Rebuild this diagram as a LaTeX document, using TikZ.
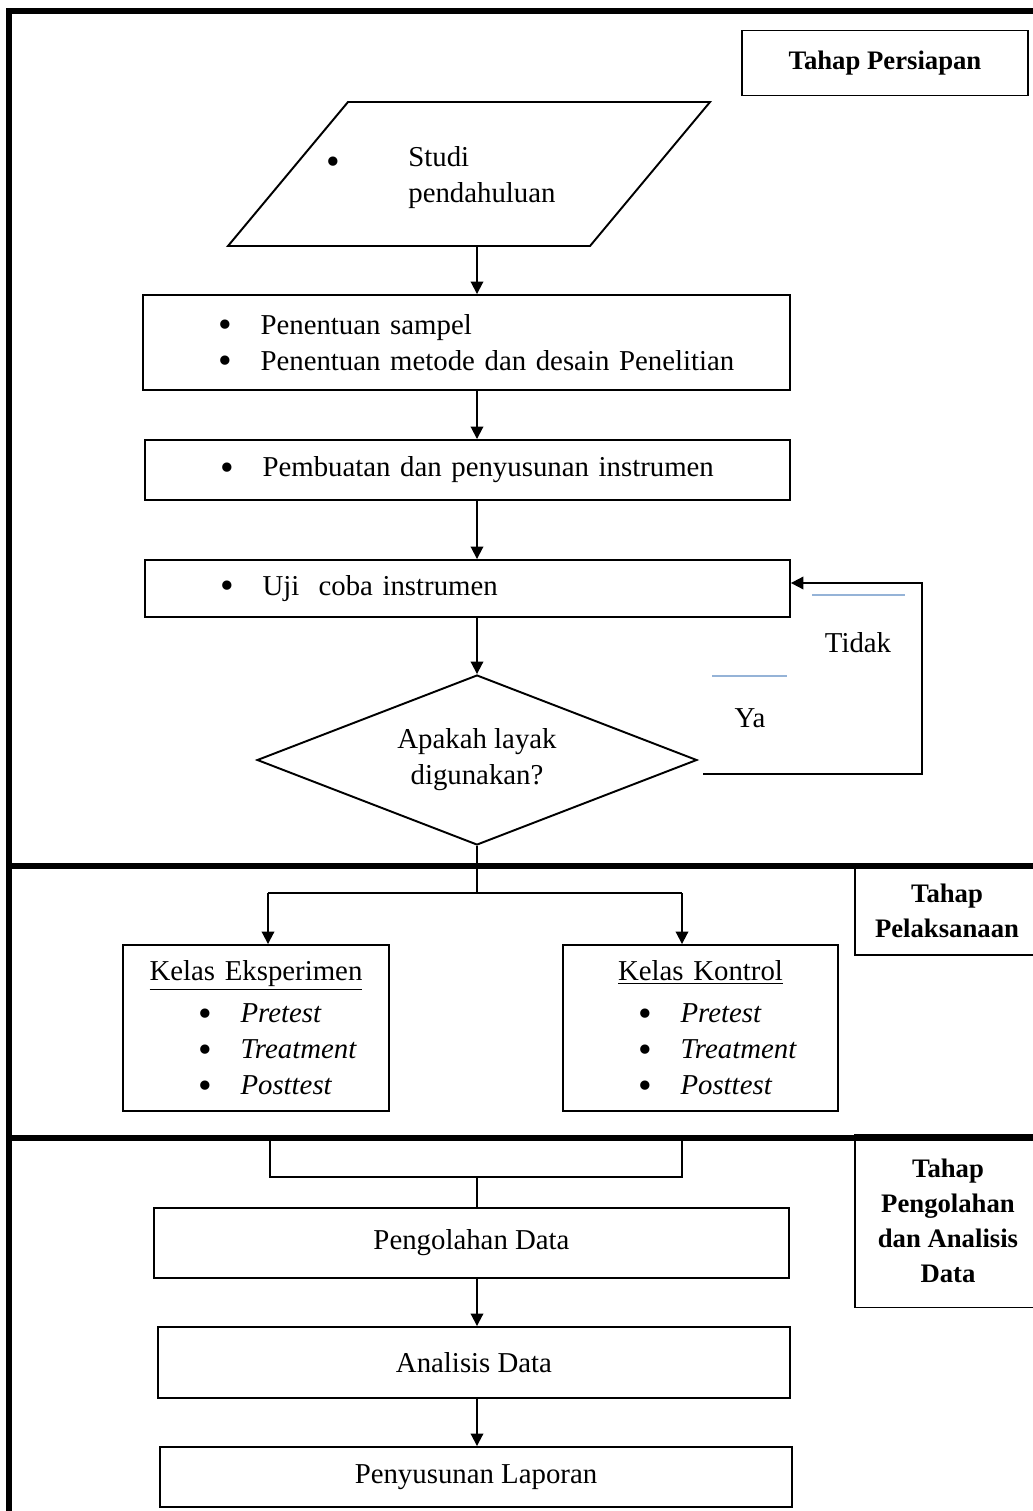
\documentclass[tikz,border=0pt]{standalone}
\usepackage{fontspec}
\setmainfont{Liberation Serif}
\usetikzlibrary{shapes.geometric,arrows.meta}
\definecolor{garisbiru}{RGB}{149,179,215}
\newcommand{\teks}{\fontsize{16.4}{20.5}\selectfont}
\newcommand{\judul}{\fontsize{15.2}{19.9}\selectfont\bfseries}
\newcommand{\bulat}{\smash{\raisebox{-0.12em}{\scalebox{1.35}{\textbullet}}}}
\newcommand{\butir}{\hspace*{1.5cm}\makebox[0.85cm][l]{\bulat}}
\begin{document}
\begin{tikzpicture}[x=0.02cm,y=-0.02cm,
	garis/.style={line width=1.1pt},
	panah/.style={line width=1.1pt,-{Triangle[width=0.25cm,length=0.25cm]}},
	bingkai/.style={line width=2.9pt},
	kotak/.style={draw,line width=1.1pt,inner sep=0pt,font=\teks},
	kotakkiri/.style={kotak,align=left,text width=#1},
	tahap/.style={draw,line width=1pt,inner sep=0pt,align=center,font=\judul}]
	\useasboundingbox (0,0) rectangle (1032,1511);

	% label tahap
	\node[tahap,minimum width=5.72cm,minimum height=1.3cm] (persiapan) at (885,63) {Tahap Persiapan};
	\node[tahap,minimum width=3.68cm,minimum height=1.78cm] (pelak) at (947,910.5) {Tahap\\Pelaksanaan};
	\node[tahap,minimum width=3.72cm,minimum height=3.46cm] (tolah) at (948,1221) {Tahap\\Pengolahan\\dan Analisis\\Data};

	% bingkai
	\draw[bingkai] (1045,11) -- (9,11) -- (9,1520);
	\draw[bingkai] (9,866) -- (1045,866);
	\draw[bingkai] (9,1138) -- (1045,1138);

	% tahap persiapan
	\draw[garis] (348,102) -- (710,102) -- (590,246) -- (228,246) -- cycle;
	\coordinate (para) at (477,246);
	\coordinate (trunk) at (477,0);
	\node[font=\teks] (studibul) at (333,171.5) {\bulat};
	\node[font=\teks,align=left,anchor=west,inner sep=0pt] (studi) at (408,178) {Studi\\pendahuluan};

	\node[kotakkiri=12.94cm,minimum height=1.9cm] (pend) at (466.5,342.5)
		{\butir Penentuan sampel\\ \butir Penentuan metode dan desain Penelitian};
	\node[kotakkiri=12.9cm,minimum height=1.2cm] (buat) at (467.5,470)
		{\butir Pembuatan dan penyusunan instrumen};
	\node[kotakkiri=12.9cm,minimum height=1.14cm] (uji) at (467.5,588.5)
		{\butir Uji\ \ coba instrumen};
	\node[draw,diamond,line width=1.1pt,minimum width=8.8cm,minimum height=3.4cm,aspect=2.6,inner sep=0pt,align=center,font=\teks] (cek) at (477,760) {Apakah layak\\digunakan?};

	\draw[panah] (para) -- (para |- pend.north);
	\foreach \a/\b in {pend/buat,buat/uji}
		\draw[panah] (\a.south -| trunk) -- (\b.north -| trunk);
	\draw[panah] (uji.south -| trunk) -- (cek.north);

	% umpan balik
	\coordinate (tdk0) at (703,774);
	\coordinate (tdk1) at (922,583);
	\draw[panah] (tdk0) -| (tdk1) -- (tdk1 -| uji.east);
	\draw[garisbiru,line width=0.9pt] (812,595) -- (905,595);
	\draw[garisbiru,line width=0.9pt] (712,676) -- (787,676);
	\node[font=\teks] (tidak) at (858,643) {Tidak};
	\node[font=\teks] (ya) at (750,718) {Ya};

	% tahap pelaksanaan
	\node[kotakkiri=5.32cm,minimum height=3.32cm] (eks) at (256,1028)
		{\makebox[\linewidth]{\underline{Kelas Eksperimen}}\\[0.12cm]
		 \butir\textit{Pretest}\\ \butir\textit{Treatment}\\ \butir\textit{Posttest}};
	\node[kotakkiri=5.5cm,minimum height=3.32cm] (kon) at (700.5,1028)
		{\makebox[\linewidth]{\underline{Kelas Kontrol}}\\[0.12cm]
		 \butir\textit{Pretest}\\ \butir\textit{Treatment}\\ \butir\textit{Posttest}};
	\coordinate (cab) at (477,893);
	\coordinate (cabL) at (268,893);
	\coordinate (cabR) at (682,893);
	\draw[garis] (cek.south) -- (cab);
	\draw[garis] (cabL) -- (cabR);
	\draw[panah] (cabL) -- (cabL |- eks.north);
	\draw[panah] (cabR) -- (cabR |- kon.north);

	% tahap pengolahan
	\node[kotak,minimum width=12.7cm,minimum height=1.4cm] (olah) at (471.5,1243) {Pengolahan Data};
	\node[kotak,minimum width=12.64cm,minimum height=1.42cm] (anal) at (474,1362.5) {Analisis Data};
	\node[kotak,minimum width=12.64cm,minimum height=1.2cm] (lapor) at (476,1477) {Penyusunan Laporan};
	\coordinate (kiri) at (270,1138);
	\coordinate (kanan) at (682,1138);
	\coordinate (gab) at (477,1177);
	\draw[garis] (kiri) |- (gab) -| (kanan);
	\draw[garis] (gab) -- (gab |- olah.north);
	\foreach \a/\b in {olah/anal,anal/lapor}
		\draw[panah] (\a.south -| trunk) -- (\b.north -| trunk);
\end{tikzpicture}
\end{document}
